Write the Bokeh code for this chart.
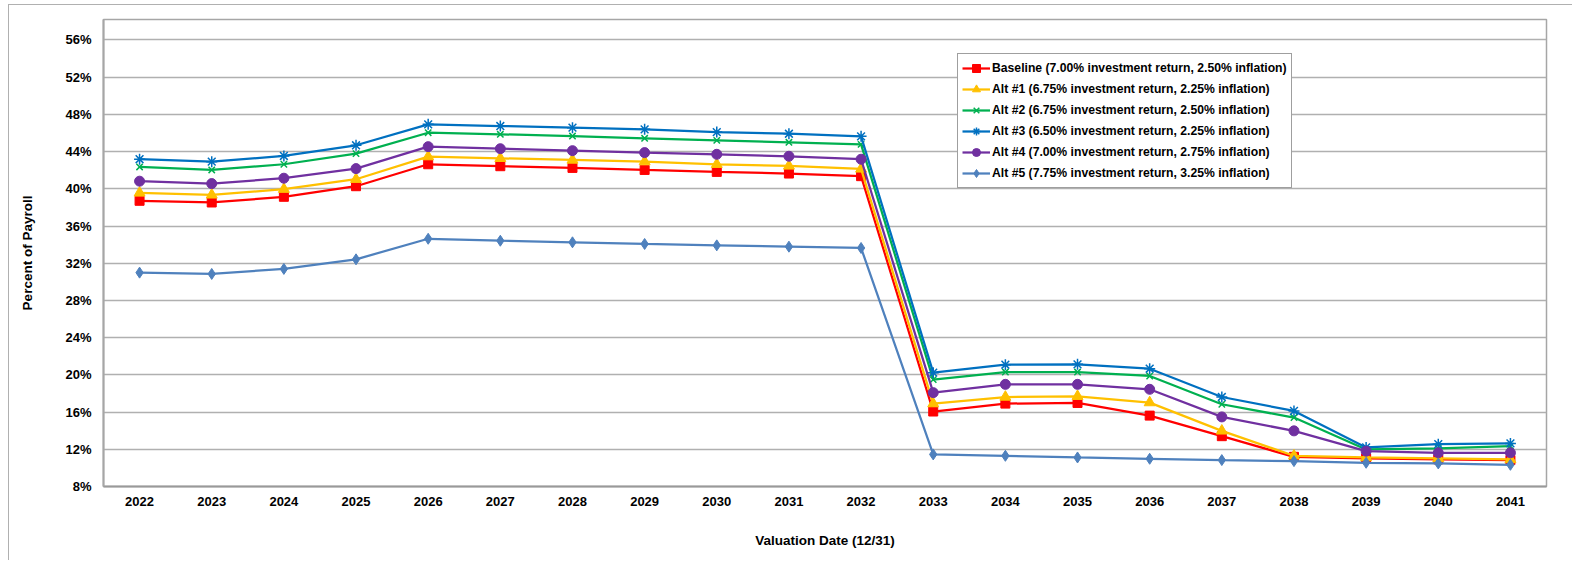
from bokeh.plotting import figure
from bokeh.models import FactorRange, Range1d, FixedTicker, PrintfTickFormatter, Legend, LegendItem
from bokeh.embed import file_html
from bokeh.resources import INLINE

years = [str(y) for y in range(2022, 2042)]
baseline = [38.71, 38.53, 39.14, 40.28, 42.64, 42.43, 42.25, 42.03, 41.82, 41.64, 41.36, 16.06, 16.91, 16.98, 15.62, 13.41, 11.19, 11.02, 10.91, 10.84]
alt1 = [39.56, 39.35, 39.96, 41.03, 43.46, 43.28, 43.10, 42.92, 42.64, 42.46, 42.14, 16.91, 17.62, 17.70, 17.02, 13.98, 11.30, 11.12, 11.02, 10.91]
alt2 = [42.35, 42.03, 42.64, 43.78, 46.03, 45.86, 45.67, 45.43, 45.21, 45.00, 44.78, 19.49, 20.30, 20.30, 19.88, 16.84, 15.41, 11.98, 12.09, 12.34]
alt3 = [43.18, 42.92, 43.53, 44.68, 46.93, 46.75, 46.57, 46.39, 46.10, 45.92, 45.64, 20.24, 21.09, 21.13, 20.66, 17.62, 16.12, 12.20, 12.55, 12.63]
alt4 = [40.82, 40.56, 41.14, 42.17, 44.53, 44.31, 44.10, 43.89, 43.71, 43.50, 43.18, 18.09, 18.98, 18.98, 18.45, 15.48, 13.98, 11.80, 11.62, 11.62]
alt5 = [30.99, 30.85, 31.39, 32.42, 34.63, 34.42, 34.25, 34.07, 33.92, 33.78, 33.64, 11.45, 11.30, 11.12, 10.98, 10.84, 10.73, 10.55, 10.48, 10.33]
labels = [
    "Baseline (7.00% investment return, 2.50% inflation)",
    "Alt #1 (6.75% investment return, 2.25% inflation)",
    "Alt #2 (6.75% investment return, 2.50% inflation)",
    "Alt #3 (6.50% investment return, 2.25% inflation)",
    "Alt #4 (7.00% investment return, 2.75% inflation)",
    "Alt #5 (7.75% investment return, 3.25% inflation)",
]
y_ticks = list(range(8, 57, 4))

FONT = "Liberation Sans"

p = figure(width=1564, height=556, output_backend="svg", toolbar_location=None,
           x_range=FactorRange(factors=years, range_padding=0),
           y_range=Range1d(8, 58.2),
           min_border_left=94, min_border_top=14, min_border_right=27, min_border_bottom=75,
           outline_line_color="#a6a6a6", outline_line_width=1.5)
p.styles = {"margin-left": "8px", "margin-top": "4px",
            "border-top": "1.5px solid #b0b0b0", "border-left": "1.5px solid #b0b0b0"}

p.xgrid.grid_line_color = None
p.ygrid.grid_line_color = "#b0b0b0"
p.ygrid.grid_line_width = 1.5
p.yaxis.ticker = FixedTicker(ticks=y_ticks)
p.yaxis.formatter = PrintfTickFormatter(format="%d%%")

for ax in (p.xaxis, p.yaxis):
    ax.major_tick_line_color = None
    ax.minor_tick_line_color = None
    ax.major_tick_out = 0
    ax.major_tick_in = 0
    ax.major_label_text_font = FONT
    ax.major_label_text_font_style = "bold"
    ax.major_label_text_font_size = "13px"
    ax.major_label_text_color = "#000000"
    ax.axis_label_text_font = FONT
    ax.axis_label_text_font_style = "bold"
    ax.axis_label_text_font_size = "13.5px"
    ax.axis_label_text_color = "#000000"

p.xaxis.axis_line_color = "#999999"
p.xaxis.axis_line_width = 2
p.yaxis.axis_line_color = "#a6a6a6"
p.yaxis.axis_line_width = 2
p.yaxis.major_label_standoff = 12
p.xaxis.major_label_standoff = 10
p.xaxis.axis_label = "Valuation Date (12/31)"
p.xaxis.axis_label_standoff = 24
p.yaxis.axis_label = "Percent of Payroll"
p.yaxis.axis_label_standoff = 27

series = [
    (baseline, "#FF0000", "square", 9),
    (alt1, "#FFC000", "triangle", 11),
    (alt2, "#00B050", "x", 9),
    (alt3, "#0070C0", "asterisk", 11),
    (alt4, "#7030A0", "circle", 10),
    (alt5, "#4F81BD", "diamond", 11),
]

items = []
for (vals, color, marker, size), lab in zip(series, labels):
    r1 = p.line(years, vals, line_color=color, line_width=2.25)
    r2 = p.scatter(years, vals, marker=marker, size=size, fill_color=color,
                   line_color=color, line_width=1.5 if marker in ("x", "asterisk") else 1)
    items.append(LegendItem(label=lab, renderers=[r1, r2]))

legend = Legend(items=items, location=(854, 298))
legend.label_text_font = FONT
legend.label_text_font_style = "bold"
legend.label_text_font_size = "12.2px"
legend.label_text_color = "#000000"
legend.glyph_width = 28
legend.glyph_height = 20
legend.label_height = 20
legend.spacing = 1
legend.padding = 4
legend.margin = 0
legend.label_standoff = 2
legend.border_line_color = "#404040"
legend.border_line_width = 1
legend.background_fill_alpha = 1
p.add_layout(legend, "center")

open("out.html", "w").write(file_html(p, INLINE))
